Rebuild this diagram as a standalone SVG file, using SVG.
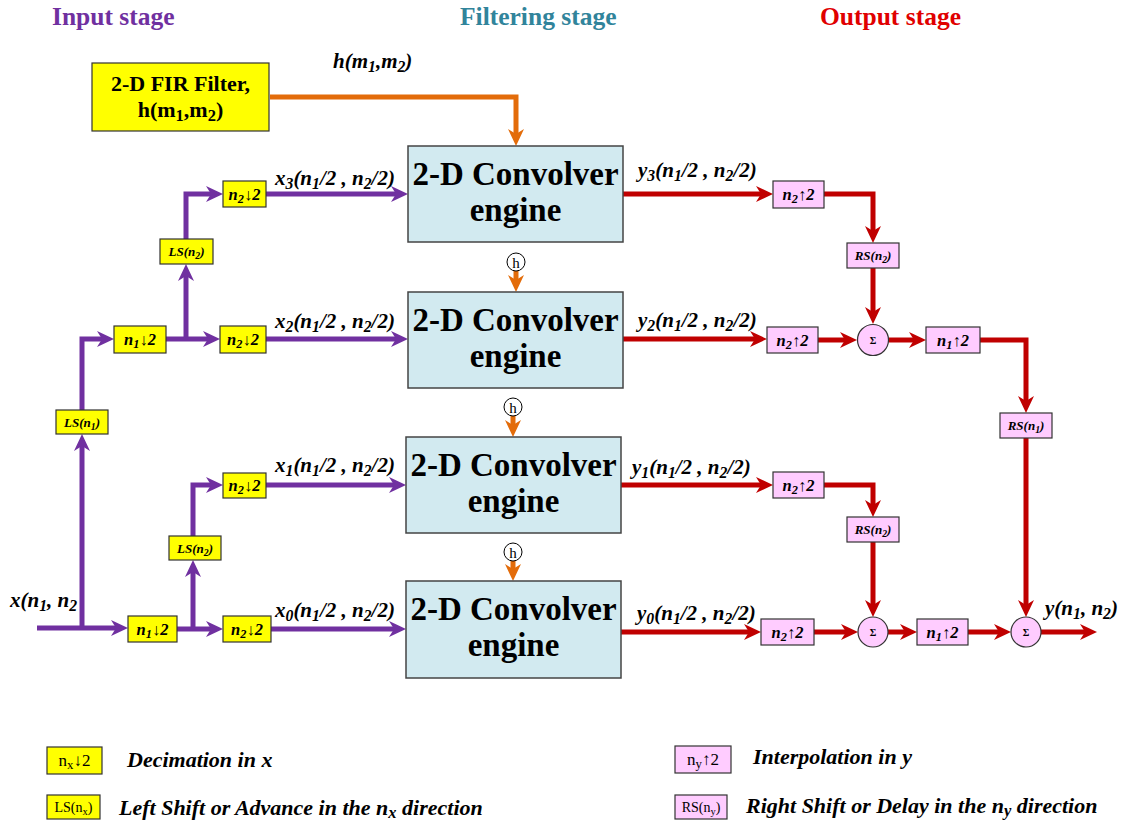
<svg xmlns="http://www.w3.org/2000/svg" width="1130" height="821" viewBox="0 0 1130 821">
<style>
text{font-family:"Liberation Serif","Times New Roman",serif;fill:#000}
.t{font-size:25.5px;font-weight:bold}
.cv{font-size:33px;font-weight:bold;text-anchor:middle}
.lab{font-size:21px;font-weight:bold;font-style:italic}
.bx{font-size:16.5px;font-weight:bold;font-style:italic;text-anchor:middle}
.sm{font-size:13px;font-weight:bold;font-style:italic;text-anchor:middle}
.s{font-size:75%}
.yb{fill:#FFFF00;stroke:#333;stroke-width:1.2}
.pb{fill:#FFCCFF;stroke:#333;stroke-width:1.2}
.cb{fill:#D2EAF0;stroke:#444;stroke-width:1.5}
.pu{fill:none;stroke:#7030A0;stroke-width:5;marker-end:url(#ap)}
.rd{fill:none;stroke:#C00000;stroke-width:5;marker-end:url(#ar)}
.or{fill:none;stroke:#E36C0A;stroke-width:5;marker-end:url(#ao)}
.lg{font-size:22px;font-weight:bold;font-style:italic}
.lb{font-size:17px;text-anchor:middle}
.lbs{font-size:14px;text-anchor:middle}
</style>
<defs>
<marker id="ap" markerUnits="userSpaceOnUse" markerWidth="18" markerHeight="16" refX="6" refY="8" orient="auto" viewBox="0 0 18 16"><path d="M0,0 L17,8 L0,16 L5,8 z" fill="#7030A0"/></marker>
<marker id="ar" markerUnits="userSpaceOnUse" markerWidth="18" markerHeight="16" refX="6" refY="8" orient="auto" viewBox="0 0 18 16"><path d="M0,0 L17,8 L0,16 L5,8 z" fill="#C00000"/></marker>
<marker id="ao" markerUnits="userSpaceOnUse" markerWidth="18" markerHeight="16" refX="6" refY="8" orient="auto" viewBox="0 0 18 16"><path d="M0,0 L17,8 L0,16 L5,8 z" fill="#E36C0A"/></marker>
</defs>
<rect width="1130" height="821" fill="#fff"/>

<g id="titles">
<text class="t" x="52" y="25" style="fill:#7030A0">Input stage</text>
<text class="t" x="460" y="25" style="fill:#31849B">Filtering stage</text>
<text class="t" x="820" y="25" style="fill:#E00000">Output stage</text>
</g>

<g id="connectors">
<path class="or" d="M270,97 H516 V135"/>
<path class="or" d="M516,271 V281"/>
<path class="or" d="M513,416 V426"/>
<path class="or" d="M513,561 V570"/>
<path class="pu" d="M37,628 H117"/>
<path class="pu" d="M82,628 V445"/>
<path class="pu" d="M82,410 V339 H103"/>
<path class="pu" d="M166,339 H209"/>
<path class="pu" d="M186,339 V275"/>
<path class="pu" d="M186,239 V194 H212"/>
<path class="pu" d="M266,194 H397"/>
<path class="pu" d="M266,339 H397"/>
<path class="pu" d="M177,629 H212"/>
<path class="pu" d="M193,629 V571"/>
<path class="pu" d="M193,536 V485 H212"/>
<path class="pu" d="M266,485 H395"/>
<path class="pu" d="M271,629 H395"/>
<path class="rd" d="M623,194 H762"/>
<path class="rd" d="M824,194 H873 V232"/>
<path class="rd" d="M873,268 V313"/>
<path class="rd" d="M623,339 H756"/>
<path class="rd" d="M818,340 H846"/>
<path class="rd" d="M889,340 H915"/>
<path class="rd" d="M980,340 H1026 V402"/>
<path class="rd" d="M1026,438 V606"/>
<path class="rd" d="M621,485 H762"/>
<path class="rd" d="M824,485 H873 V506"/>
<path class="rd" d="M873,542 V606"/>
<path class="rd" d="M621,632 H750"/>
<path class="rd" d="M814,632 H847"/>
<path class="rd" d="M888,632 H906"/>
<path class="rd" d="M968,632 H1000"/>
<path class="rd" d="M1041,632 H1086"/>
</g>

<g id="fir">
<rect x="92" y="63" width="177" height="68" class="yb"/>
<text x="180.5" y="91" style="font-size:22px;font-weight:bold;text-anchor:middle">2-D FIR Filter,</text>
<text x="180.5" y="117" style="font-size:22px;font-weight:bold;text-anchor:middle">h(m<tspan class="s" dy="4">1</tspan><tspan dy="-4">,m</tspan><tspan class="s" dy="4">2</tspan><tspan dy="-4">)</tspan></text>
</g>
<text class="lab" x="333" y="68">h(m<tspan class="s" dy="4">1</tspan><tspan dy="-4">,m</tspan><tspan class="s" dy="4">2</tspan><tspan dy="-4">)</tspan></text>

<g id="conv3"><rect x="408" y="146" width="215" height="96" class="cb"/><text class="cv" x="515.5" y="185">2-D Convolver</text><text class="cv" x="515.5" y="221">engine</text></g>
<g id="conv2"><rect x="408" y="292" width="215" height="96" class="cb"/><text class="cv" x="515.5" y="331">2-D Convolver</text><text class="cv" x="515.5" y="367">engine</text></g>
<g id="conv1"><rect x="406" y="437" width="215" height="96" class="cb"/><text class="cv" x="513.5" y="476">2-D Convolver</text><text class="cv" x="513.5" y="512">engine</text></g>
<g id="conv0"><rect x="406" y="581" width="215" height="97" class="cb"/><text class="cv" x="513.5" y="620">2-D Convolver</text><text class="cv" x="513.5" y="656">engine</text></g>

<g id="h1"><circle cx="516" cy="262" r="9" fill="#fff" stroke="#000" stroke-width="1"/><text x="516" y="267.5" style="font-size:15px;text-anchor:middle">h</text></g>
<g id="h2"><circle cx="513" cy="407" r="9" fill="#fff" stroke="#000" stroke-width="1"/><text x="513" y="412.5" style="font-size:15px;text-anchor:middle">h</text></g>
<g id="h3"><circle cx="513" cy="552" r="9" fill="#fff" stroke="#000" stroke-width="1"/><text x="513" y="557.5" style="font-size:15px;text-anchor:middle">h</text></g>

<g id="dn2_3"><rect x="223" y="181" width="43" height="26" class="yb"/><text class="bx" x="244.5" y="199.5">n<tspan class="s" dy="3">2</tspan><tspan dy="-3">↓2</tspan></text></g>
<g id="ls2_a"><rect x="160" y="239" width="53" height="25" class="yb"/><text class="sm" x="186.5" y="256">LS(n<tspan class="s" dy="3">2</tspan><tspan dy="-3">)</tspan></text></g>
<g id="dn1_a"><rect x="114" y="326" width="52" height="27" class="yb"/><text class="bx" x="140" y="345">n<tspan class="s" dy="3">1</tspan><tspan dy="-3">↓2</tspan></text></g>
<g id="dn2_2"><rect x="220" y="326" width="46" height="27" class="yb"/><text class="bx" x="243" y="345">n<tspan class="s" dy="3">2</tspan><tspan dy="-3">↓2</tspan></text></g>
<g id="ls1"><rect x="56" y="410" width="52" height="24" class="yb"/><text class="sm" x="82" y="426.5">LS(n<tspan class="s" dy="3">1</tspan><tspan dy="-3">)</tspan></text></g>
<g id="dn2_1"><rect x="223" y="473" width="43" height="25" class="yb"/><text class="bx" x="244.5" y="491">n<tspan class="s" dy="3">2</tspan><tspan dy="-3">↓2</tspan></text></g>
<g id="ls2_b"><rect x="169" y="536" width="52" height="24" class="yb"/><text class="sm" x="195" y="552.5">LS(n<tspan class="s" dy="3">2</tspan><tspan dy="-3">)</tspan></text></g>
<g id="dn1_b"><rect x="128" y="616" width="49" height="26" class="yb"/><text class="bx" x="152.5" y="634.5">n<tspan class="s" dy="3">1</tspan><tspan dy="-3">↓2</tspan></text></g>
<g id="dn2_0"><rect x="223" y="616" width="48" height="26" class="yb"/><text class="bx" x="247" y="634.5">n<tspan class="s" dy="3">2</tspan><tspan dy="-3">↓2</tspan></text></g>

<g id="xlabels">
<text class="lab" x="10" y="607">x(n<tspan class="s" dy="4">1</tspan><tspan dy="-4">, n</tspan><tspan class="s" dy="4">2</tspan></text>
<text class="lab" x="275" y="185">x<tspan class="s" dy="4">3</tspan><tspan dy="-4">(n</tspan><tspan class="s" dy="4">1</tspan><tspan dy="-4">/2 , n</tspan><tspan class="s" dy="4">2</tspan><tspan dy="-4">/2)</tspan></text>
<text class="lab" x="275" y="328">x<tspan class="s" dy="4">2</tspan><tspan dy="-4">(n</tspan><tspan class="s" dy="4">1</tspan><tspan dy="-4">/2 , n</tspan><tspan class="s" dy="4">2</tspan><tspan dy="-4">/2)</tspan></text>
<text class="lab" x="275" y="472">x<tspan class="s" dy="4">1</tspan><tspan dy="-4">(n</tspan><tspan class="s" dy="4">1</tspan><tspan dy="-4">/2 , n</tspan><tspan class="s" dy="4">2</tspan><tspan dy="-4">/2)</tspan></text>
<text class="lab" x="275" y="617">x<tspan class="s" dy="4">0</tspan><tspan dy="-4">(n</tspan><tspan class="s" dy="4">1</tspan><tspan dy="-4">/2 , n</tspan><tspan class="s" dy="4">2</tspan><tspan dy="-4">/2)</tspan></text>
</g>

<g id="ylabels">
<text class="lab" x="638" y="177">y<tspan class="s" dy="4">3</tspan><tspan dy="-4">(n</tspan><tspan class="s" dy="4">1</tspan><tspan dy="-4">/2 , n</tspan><tspan class="s" dy="4">2</tspan><tspan dy="-4">/2)</tspan></text>
<text class="lab" x="638" y="327">y<tspan class="s" dy="4">2</tspan><tspan dy="-4">(n</tspan><tspan class="s" dy="4">1</tspan><tspan dy="-4">/2 , n</tspan><tspan class="s" dy="4">2</tspan><tspan dy="-4">/2)</tspan></text>
<text class="lab" x="632" y="474">y<tspan class="s" dy="4">1</tspan><tspan dy="-4">(n</tspan><tspan class="s" dy="4">1</tspan><tspan dy="-4">/2 , n</tspan><tspan class="s" dy="4">2</tspan><tspan dy="-4">/2)</tspan></text>
<text class="lab" x="637" y="620">y<tspan class="s" dy="4">0</tspan><tspan dy="-4">(n</tspan><tspan class="s" dy="4">1</tspan><tspan dy="-4">/2 , n</tspan><tspan class="s" dy="4">2</tspan><tspan dy="-4">/2)</tspan></text>
<text class="lab" x="1045" y="615">y(n<tspan class="s" dy="4">1</tspan><tspan dy="-4">, n</tspan><tspan class="s" dy="4">2</tspan><tspan dy="-4">)</tspan></text>
</g>

<g id="up2_3"><rect x="773" y="181" width="51" height="27" class="pb"/><text class="bx" x="798.5" y="200">n<tspan class="s" dy="3">2</tspan><tspan dy="-3">↑2</tspan></text></g>
<g id="rs2_a"><rect x="847" y="243" width="52" height="25" class="pb"/><text class="sm" x="873" y="260">RS(n<tspan class="s" dy="3">2</tspan><tspan dy="-3">)</tspan></text></g>
<g id="up2_2"><rect x="767" y="327" width="51" height="26" class="pb"/><text class="bx" x="792.5" y="346">n<tspan class="s" dy="3">2</tspan><tspan dy="-3">↑2</tspan></text></g>
<g id="sum_a"><circle cx="873" cy="340" r="15.5" class="pb"/><text x="873" y="344" style="font-size:10px;font-weight:bold;text-anchor:middle">Σ</text></g>
<g id="up1_a"><rect x="926" y="327" width="54" height="26" class="pb"/><text class="bx" x="953" y="346">n<tspan class="s" dy="3">1</tspan><tspan dy="-3">↑2</tspan></text></g>
<g id="rs1"><rect x="1000" y="413" width="52" height="25" class="pb"/><text class="sm" x="1026" y="430">RS(n<tspan class="s" dy="3">1</tspan><tspan dy="-3">)</tspan></text></g>
<g id="up2_1"><rect x="773" y="472" width="51" height="26" class="pb"/><text class="bx" x="798.5" y="491">n<tspan class="s" dy="3">2</tspan><tspan dy="-3">↑2</tspan></text></g>
<g id="rs2_b"><rect x="847" y="517" width="52" height="25" class="pb"/><text class="sm" x="873" y="534">RS(n<tspan class="s" dy="3">2</tspan><tspan dy="-3">)</tspan></text></g>
<g id="up2_0"><rect x="761" y="619" width="53" height="26" class="pb"/><text class="bx" x="787.5" y="638">n<tspan class="s" dy="3">2</tspan><tspan dy="-3">↑2</tspan></text></g>
<g id="sum_b"><circle cx="873" cy="632" r="15" class="pb"/><text x="873" y="636" style="font-size:10px;font-weight:bold;text-anchor:middle">Σ</text></g>
<g id="up1_b"><rect x="917" y="619" width="51" height="26" class="pb"/><text class="bx" x="942.5" y="638">n<tspan class="s" dy="3">1</tspan><tspan dy="-3">↑2</tspan></text></g>
<g id="sum_c"><circle cx="1026" cy="632" r="15" class="pb"/><text x="1026" y="636" style="font-size:10px;font-weight:bold;text-anchor:middle">Σ</text></g>

<g id="legend">
<rect x="47" y="747" width="55" height="27" class="yb"/><text class="lb" x="74.5" y="766">n<tspan class="s" dy="3">x</tspan><tspan dy="-3">↓2</tspan></text>
<text class="lg" x="127" y="767">Decimation in x</text>
<rect x="47" y="795" width="53" height="24" class="yb"/><text class="lbs" x="73.5" y="812">LS(n<tspan class="s" dy="3">x</tspan><tspan dy="-3">)</tspan></text>
<text class="lg" x="119" y="815">Left Shift or Advance in the n<tspan class="s" dy="3">x</tspan><tspan dy="-3"> direction</tspan></text>
<rect x="675" y="746" width="56" height="27" class="pb"/><text class="lb" x="703" y="765">n<tspan class="s" dy="3">y</tspan><tspan dy="-3">↑2</tspan></text>
<text class="lg" x="753" y="764">Interpolation in y</text>
<rect x="675" y="795" width="52" height="24" class="pb"/><text class="lbs" x="701" y="812">RS(n<tspan class="s" dy="3">y</tspan><tspan dy="-3">)</tspan></text>
<text class="lg" x="746" y="813">Right Shift or Delay in the n<tspan class="s" dy="3">y</tspan><tspan dy="-3"> direction</tspan></text>
</g>
</svg>
